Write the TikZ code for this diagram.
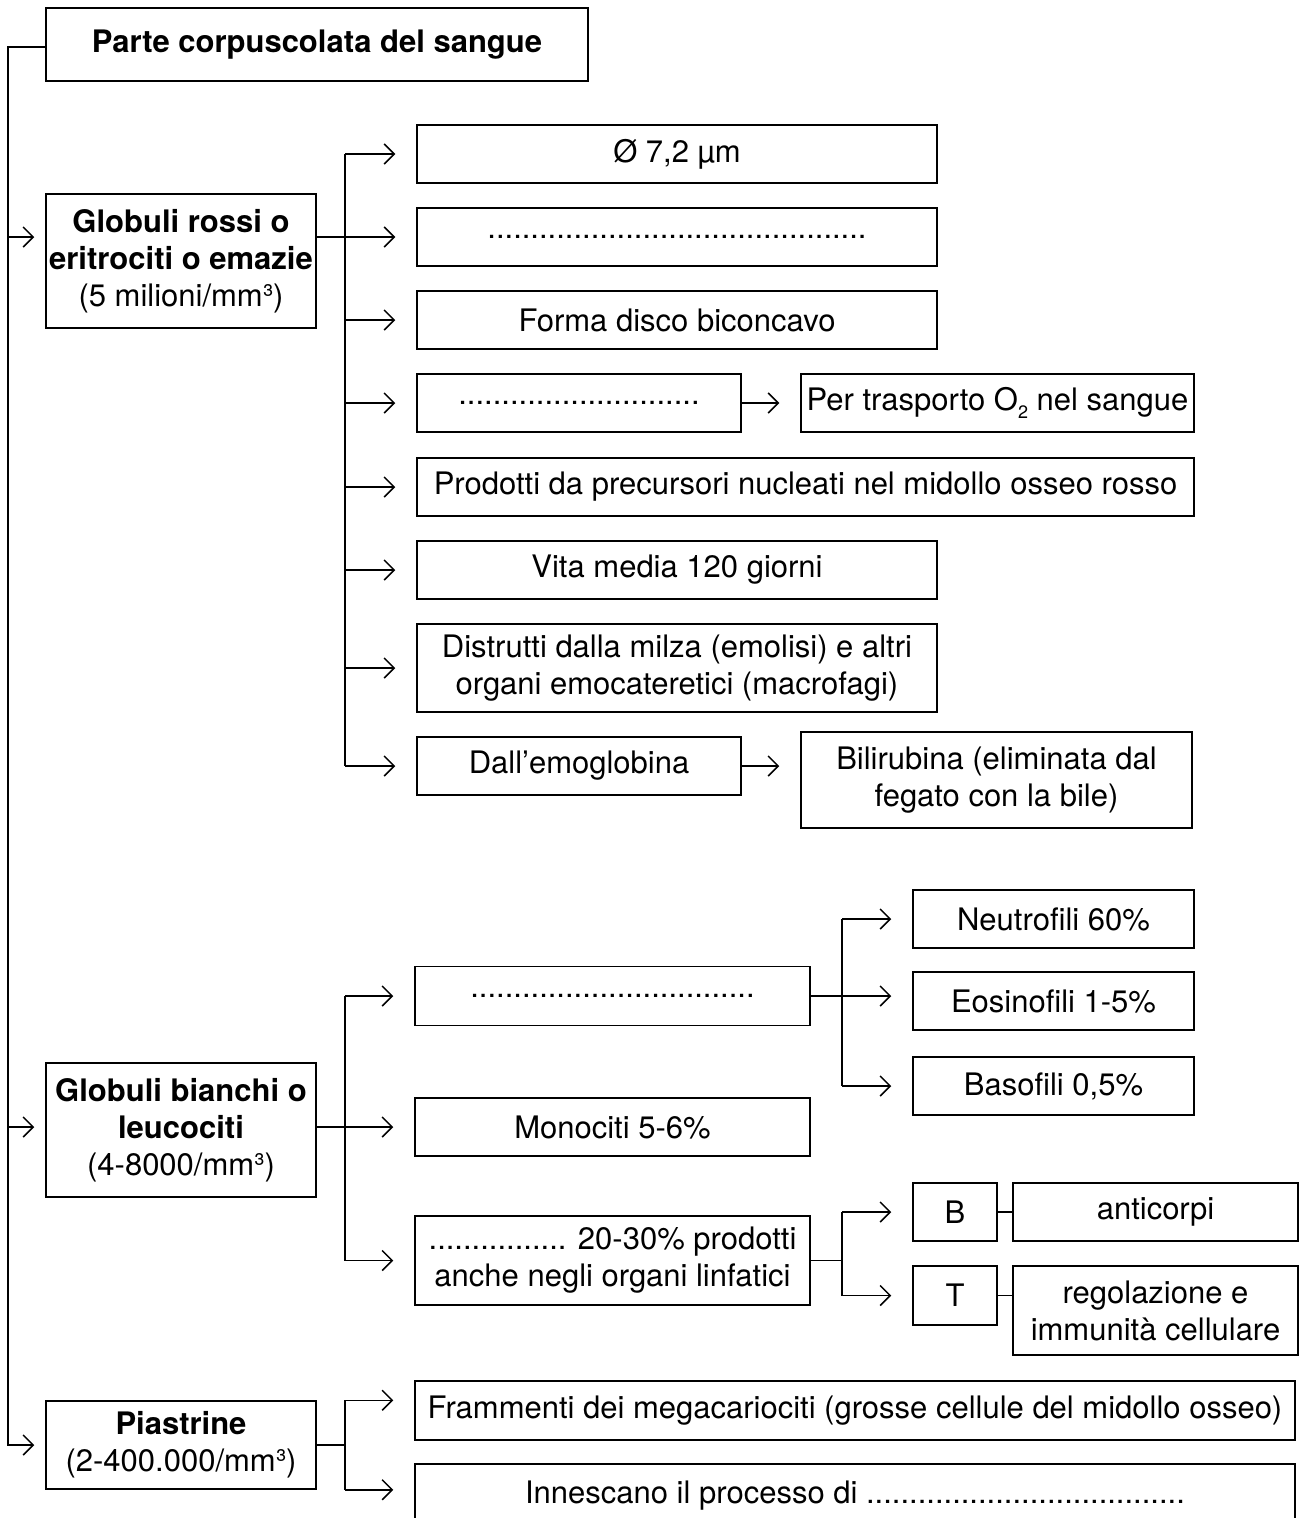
\documentclass[tikz,border=0pt]{standalone}
\usepackage{fontspec}
\setmainfont{TeX Gyre Heros}
\usetikzlibrary{arrows.meta,calc}
\begin{document}
\begin{tikzpicture}[x=1pt,y=-1pt,line width=1.5pt,
  box/.style={draw,line width=1.5pt,align=center,inner sep=0pt,
    font=\fontsize{31}{37}\selectfont},
  bbox/.style={box,font=\fontsize{31}{37}\selectfont\bfseries},
  arr/.style={-{Straight Barb[length=10pt,width=20pt,line width=1.5pt]},shorten >=21pt},
  arrM/.style={-{Straight Barb[length=10pt,width=20pt,line width=1.5pt]},shorten >=11pt}]
\clip (0,0) rectangle (1304,1518);
\fill[white] (0,0) rectangle (1304,1518);
% helper coordinates
\coordinate (mx) at (8,0);
\coordinate (bx) at (345,0);
\coordinate (cx) at (842,0);
% title
\node[bbox,minimum width=542pt,minimum height=73pt] (title) at (317,44.5) {Parte corpuscolata del sangue};
% red cells
\node[box,minimum width=270pt,minimum height=134pt] (rossi) at (181,261)
  {\bfseries Globuli rossi o\\ \bfseries eritrociti o emazie\\(5 milioni/mm³)};
\node[box,minimum width=520pt,minimum height=58pt] (r1) at (677,154) {Ø 7,2 µm};
\node[box,minimum width=520pt,minimum height=58pt] (r2) at (677,237) {............................................};
\node[box,minimum width=520pt,minimum height=58pt] (r3) at (677,320) {Forma disco biconcavo};
\node[box,minimum width=324pt,minimum height=58pt] (r4) at (579,403) {............................};
\node[box,minimum width=393pt,minimum height=58pt] (r4b) at (997.5,403) {Per trasporto O\raisebox{-0.45ex}{\fontsize{18}{18}\selectfont 2} nel sangue};
\node[box,minimum width=777pt,minimum height=58pt] (r5) at (805.5,487) {Prodotti da precursori nucleati nel midollo osseo rosso};
\node[box,minimum width=520pt,minimum height=58pt] (r6) at (677,570) {Vita media 120 giorni};
\node[box,minimum width=520pt,minimum height=88pt] (r7) at (677,668) {Distrutti dalla milza (emolisi) e altri\\organi emocateretici (macrofagi)};
\node[box,minimum width=324pt,minimum height=58pt] (r8) at (579,766) {Dall’emoglobina};
\node[box,minimum width=391pt,minimum height=96pt] (r8b) at (996.5,780) {Bilirubina (eliminata dal\\fegato con la bile)};
% white cells
\node[box,minimum width=270pt,minimum height=134pt] (bianchi) at (181,1130)
  {\bfseries Globuli bianchi o\\ \bfseries leucociti\\(4-8000/mm³)};
\node[box,minimum width=395pt,minimum height=59pt] (w1) at (612.5,996) {.................................};
\node[box,minimum width=395pt,minimum height=58pt] (w2) at (612.5,1127) {Monociti 5-6\%};
\node[box,minimum width=395pt,minimum height=89pt] (w3) at (612.5,1260.5) {................ 20-30\% prodotti\\anche negli organi linfatici};
\node[box,minimum width=281pt,minimum height=58pt] (neu) at (1053.5,919) {Neutrofili 60\%};
\node[box,minimum width=281pt,minimum height=58pt] (eos) at (1053.5,1001) {Eosinofili 1-5\%};
\node[box,minimum width=281pt,minimum height=58pt] (bas) at (1053.5,1086) {Basofili 0,5\%};
\node[box,minimum width=84pt,minimum height=58pt] (Bn) at (955,1212) {B};
\node[box,minimum width=84pt,minimum height=59pt] (Tn) at (955,1295.5) {T};
\node[box,minimum width=285pt,minimum height=58pt] (anti) at (1155.5,1212) {anticorpi};
\node[box,minimum width=285pt,minimum height=89pt] (reg) at (1155.5,1310.5) {regolazione e\\immunità cellulare};
% platelets
\node[box,minimum width=270pt,minimum height=88pt] (pia) at (181,1445)
  {\bfseries Piastrine\\(2-400.000/mm³)};
\node[box,minimum width=880pt,minimum height=59pt] (p1) at (855,1410.5) {Frammenti dei megacariociti (grosse cellule del midollo osseo)};
\node[box,minimum width=880pt,minimum height=64pt] (p2) at (855,1496) {Innescano il processo di .....................................};
% trunk
\draw[arrM] (title.west |- 0,47) -| (mx |- pia.west) -- (pia.west);
\draw[arrM] (mx |- r2) -- (rossi.west |- r2);
\draw[arrM] (mx |- w2) -- (bianchi.west |- w2);
% red branch
\draw (rossi.east |- r2) -- (bx |- r2);
\draw (bx |- r1) -- (bx |- r8);
\foreach \n in {r1,r2,r3,r4,r5,r6,r7,r8} \draw[arr] (bx |- \n) -- (\n.west);
\draw[arr] (r4.east) -- (r4b.west |- r4.east);
\draw[arr] (r8.east) -- (r8b.west |- r8.east);
% white branch
\draw (bianchi.east |- w2) -- (bx |- w2);
\draw (bx |- w1) -- (bx |- w3);
\foreach \n in {w1,w2,w3} \draw[arr] (bx |- \n) -- (\n.west);
\draw (w1.east) -- (cx |- w1);
\draw (cx |- neu) -- (cx |- bas);
\draw[arr] (cx |- neu) -- (neu.west);
\draw[arr] (cx |- w1) -- (eos.west |- w1);
\draw[arr] (cx |- bas) -- (bas.west);
\draw (w3.east) -- (cx |- w3);
\draw (cx |- Bn) -- (cx |- Tn);
\draw[arr] (cx |- Bn) -- (Bn.west);
\draw[arr] (cx |- Tn) -- (Tn.west);
\draw (Bn.east) -- (anti.west);
\draw (Tn.east) -- (Tn.east -| reg.west);
% platelet branch
\draw (pia.east) -- (bx |- pia.east);
\draw (bx |- pia.north) -- (bx |- pia.south);
\draw[arr] (bx |- pia.north) -- (p1.west |- pia.north);
\draw[arr] (bx |- pia.south) -- (p2.west |- pia.south);
\end{tikzpicture}
\end{document}
